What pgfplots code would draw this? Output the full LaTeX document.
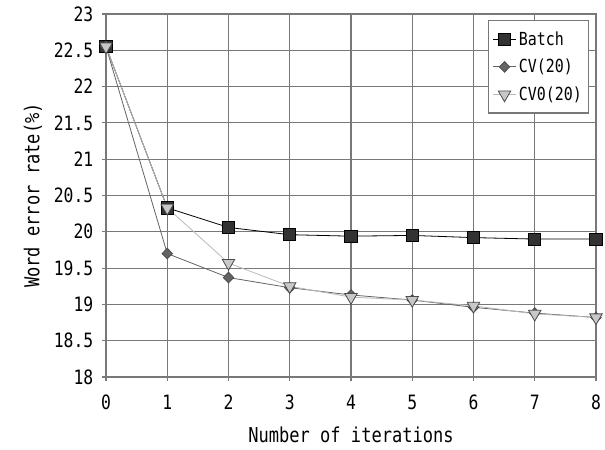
\documentclass[border=0pt]{standalone}
\usepackage{fontspec}
\setmainfont[FakeStretch=0.83]{DejaVu Sans Mono}
\usepackage{pgfplots}
\pgfplotsset{compat=1.18}
\definecolor{gridc}{RGB}{120,120,120}
\definecolor{bfill}{RGB}{50,50,50}
\definecolor{cvfill}{RGB}{100,100,100}
\definecolor{cv0fill}{RGB}{200,200,200}
\definecolor{cv0line}{RGB}{185,185,185}
\begin{document}
\begin{tikzpicture}
\path[use as bounding box] (-79.5pt,-54pt) rectangle (374.25pt,282.75pt);
\begin{axis}[
  scale only axis,
  width=367.5pt, height=272.25pt,
  xmin=0, xmax=8, ymin=18, ymax=23,
  xtick={0,...,8},
  ytick={18,18.5,...,23},
  yticklabels={18,18.5,19,19.5,20,20.5,21,21.5,22,22.5,23},
  grid=major,
  major grid style={gridc, line width=0.8pt},
  axis line style={gridc, line width=1pt},
  tick align=outside,
  major tick length=3pt,
  tick style={gridc, line width=0.8pt},
  xtick pos=bottom, ytick pos=left,
  /pgf/number format/assume math mode=true,
  ticklabel style={font=\fontsize{14.8}{17}\selectfont},
  xticklabel style={yshift=-7pt},
  yticklabel style={xshift=-3pt},
  label style={font=\fontsize{15.4}{18}\selectfont},
  xlabel={Number of iterations},
  ylabel={Word error rate(\%)},
  xlabel style={at={(axis description cs:0.5,0)}, anchor=center, yshift=-43.5pt},
  ylabel style={at={(axis description cs:0,0.5)}, anchor=center, xshift=0pt, yshift=54.75pt},
  legend style={at={(0.986,0.983)}, anchor=north east, draw=gridc, line width=0.8pt, fill=white, row sep=5pt, font=\fontsize{13.5}{16}\selectfont, inner xsep=3pt, inner ysep=6pt},
  legend cell align=left,
]
\addplot[black, line width=0.6pt, mark=square*, mark size=4.6pt, mark options={fill=bfill, draw=black, line width=0.6pt}] coordinates {
(0,22.55) (1,20.33) (2,20.06) (3,19.96) (4,19.94) (5,19.95) (6,19.92) (7,19.9) (8,19.9)};
\addlegendentry{Batch}
\addplot[cvfill, line width=0.6pt, mark=diamond*, mark size=4pt, mark options={fill=cvfill, draw=black!70, xscale=1.3, line width=0.6pt}] coordinates {
(0,22.55) (1,19.7) (2,19.37) (3,19.23) (4,19.13) (5,19.06) (6,18.96) (7,18.88) (8,18.82)};
\addlegendentry{CV(20)}
\addplot[cv0line, line width=0.6pt, mark=triangle*, mark size=5.4pt, mark options={fill=cv0fill, draw=black!70, rotate=180, line width=0.6pt}] coordinates {
(0,22.55) (1,20.33) (2,19.57) (3,19.25) (4,19.1) (5,19.06) (6,18.98) (7,18.87) (8,18.82)};
\addlegendentry{CV0(20)}
\end{axis}
\end{tikzpicture}
\end{document}
